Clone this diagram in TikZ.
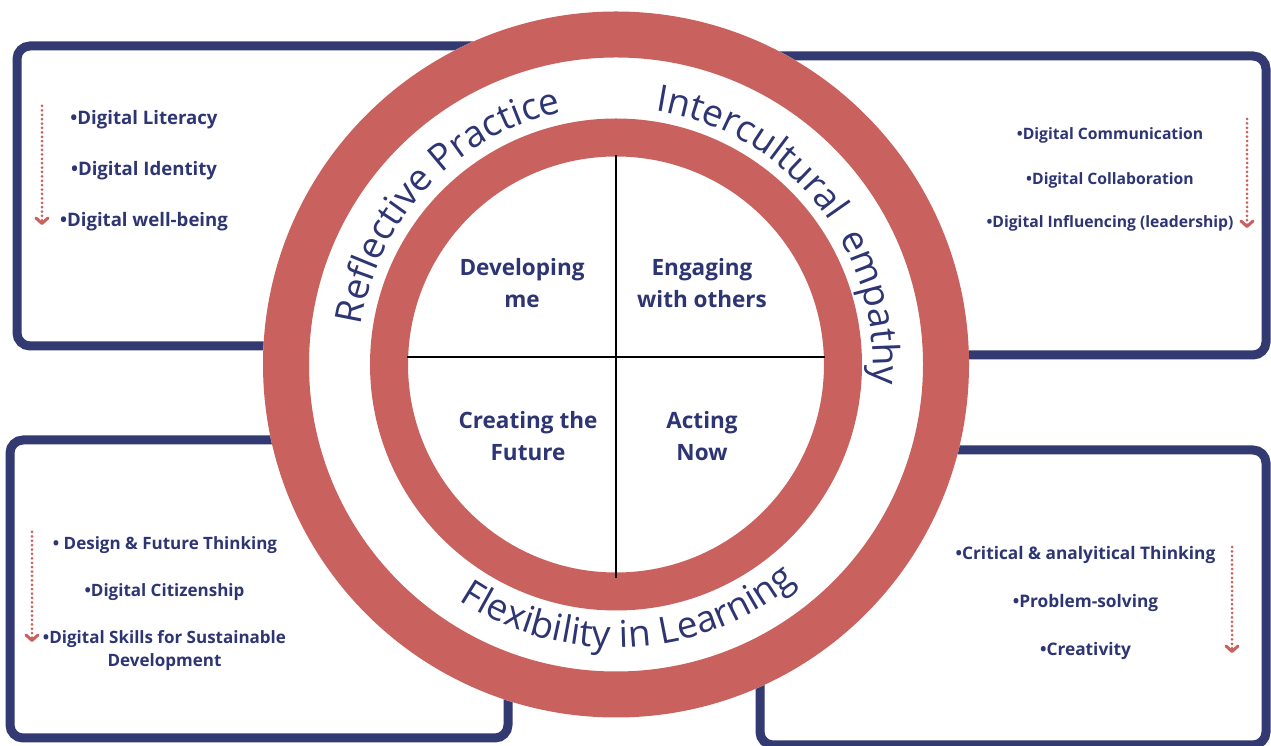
\documentclass[tikz,border=0pt]{standalone}
\usepackage{fontspec}
\setmainfont{Open Sans}
\usetikzlibrary{arrows.meta,calc,decorations.text,positioning}
\definecolor{ringred}{HTML}{C9625F}
\definecolor{navy}{HTML}{323A71}
\definecolor{ink}{HTML}{2E3573}
\newcommand{\ringfont}{\fontsize{37}{40}\selectfont}

\begin{document}
\begin{tikzpicture}[
		x=1pt, y=1pt,
		panel/.style={draw=navy,line width=9pt,rounded corners=13pt},
		quad/.style={text=ink,font=\bfseries\fontsize{22.5}{32}\selectfont,align=center,inner sep=0pt},
		item/.style={text=ink,font=\bfseries\fontsize{#1}{23}\selectfont,align=center,inner sep=0pt,anchor=base},
		item/.default=17,
		flow/.style={draw=ringred,line width=3pt,line cap=round,dash pattern=on 0pt off 4.4pt,
			-{Straight Barb[length=5.5pt,width=12pt,round]}},
		ringtext/.style={decorate,decoration={text along path,text align=center,text={|\color{ink}\ringfont|#1}}}
	]
		\useasboundingbox[fill=white] (0,0) rectangle (1271,746);
		\coordinate (c) at (616,381.5);

		\draw[panel] (17,400) rectangle (520,700);
		\draw[panel] (720,391) rectangle (1266,690);
		\draw[panel] (10,8) rectangle (508,306);
		\draw[panel] (760,1) rectangle (1266,296);

		\fill[white] (c) circle (353);
		\draw[ringred,line width=46pt] (c) circle (330);
		\draw[ringred,line width=38pt] (c) circle (227);
		\draw[line width=2pt] (407,389) -- (825,389);
		\draw[line width=2pt] (616,591) -- (616,168);

		\node[quad] (developing) at (522,463) {Developing\\me};
		\node[quad] (engaging) at (702,463) {Engaging\\with others};
		\node[quad] (creating) at (528,310) {Creating the\\Future};
		\node[quad] (acting) at (702,310) {Acting\\Now};

		\path[ringtext=Reflective Practice] ($(c)+(181.7:258)$) arc[start angle=181.7,end angle=91.7,radius=258];
		\path[ringtext=Intercultural{\ }{\ }empathy] ($(c)+(88.4:257)$) arc[start angle=88.4,end angle=-11.6,radius=257];
		\path[ringtext=Flexibility in Learning] ($(c)+(228:283)$) arc[start angle=228,end angle=318,radius=283];

		\node[item=18.6] (literacy) at (144,621) {•Digital Literacy};
		\node[item=18.6] (identity) at (144,570) {•Digital Identity};
		\node[item=18.6] (wellbeing) at (144,519) {•Digital well-being};
		\coordinate (tlstart) at (42,640);
		\coordinate (tlend) at (42,521);
		\draw[flow] (tlstart) -- (tlend);

		\node[item=15.7] (communication) at (1110,606) {•Digital Communication};
		\node[item=15.7] (collaboration) at (1110,561) {•Digital Collaboration};
		\node[item=15.7] (influencing) at (1110,518) {•Digital Influencing (leadership)};
		\coordinate (trstart) at (1247,627);
		\coordinate (trend) at (1247,518);
		\draw[flow] (trstart) -- (trend);

		\node[item] (design) at (165,196) {• Design \& Future Thinking};
		\node[item] (citizenship) at (164.5,149) {•Digital Citizenship};
		\node[item] (sustainable) at (164.5,79) {•Digital Skills for Sustainable\\Development};
		\coordinate (blstart) at (32,214);
		\coordinate (blend) at (32,104);
		\draw[flow] (blstart) -- (blend);

		\node[item=17.3] (critical) at (1085.5,186) {•Critical \& analyitical Thinking};
		\node[item=17.3] (problem) at (1085.5,138) {•Problem-solving};
		\node[item=17.3] (creativity) at (1085.5,90) {•Creativity};
		\coordinate (brstart) at (1232,199);
		\coordinate (brend) at (1232,93);
		\draw[flow] (brstart) -- (brend);
	\end{tikzpicture}
\end{document}
